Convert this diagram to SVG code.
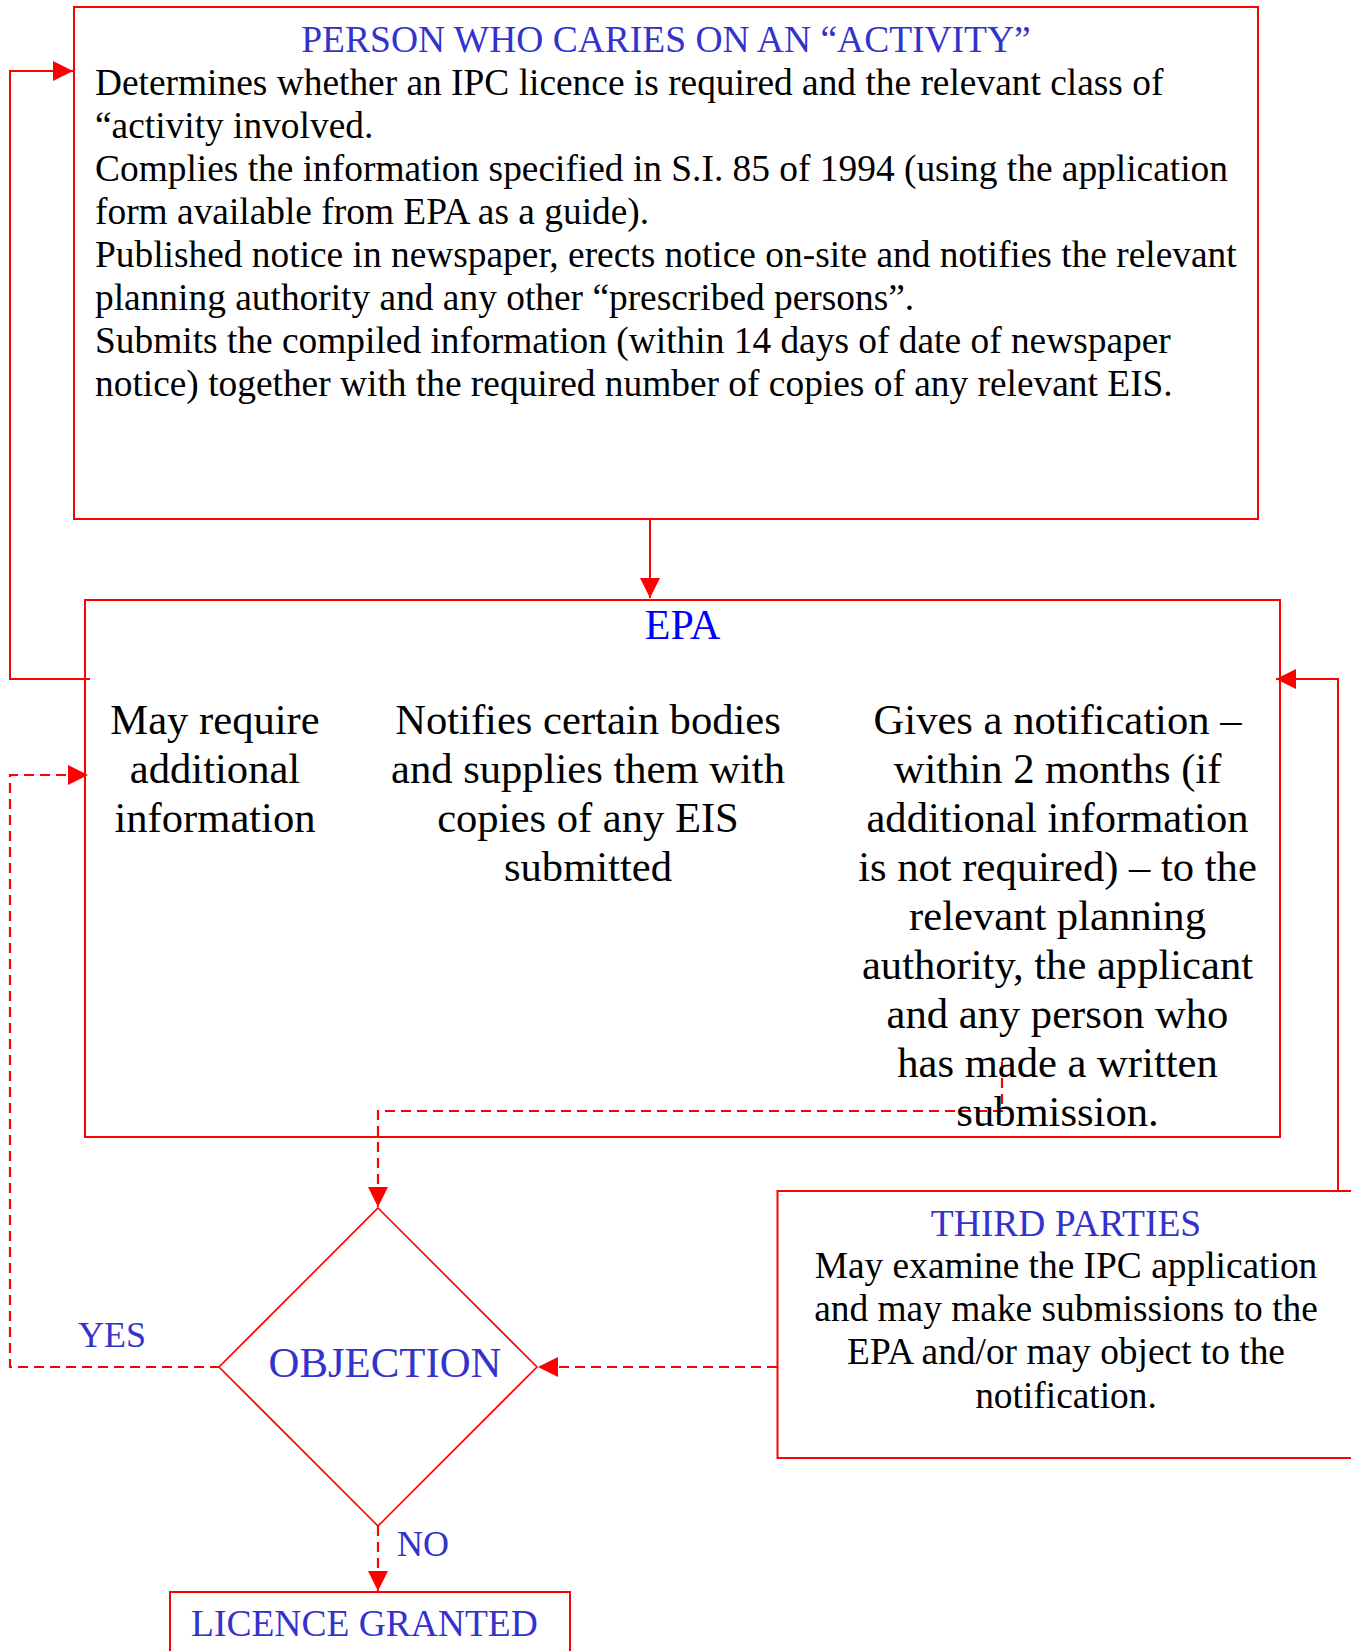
<svg xmlns="http://www.w3.org/2000/svg" width="1351" height="1651" viewBox="0 0 1351 1651">
<style>
.box{fill:none;stroke:#ff0000;stroke-width:2}
.dia{fill:none;stroke:#ff0000;stroke-width:1.6}
.con{fill:none;stroke:#ff0000;stroke-width:2}
.dash{stroke-dasharray:10 6;stroke-width:2.2}
text{font-family:"Liberation Serif","Times New Roman",serif}
.body{font-size:37.4px;fill:#000}
.col{font-size:42.6px;fill:#000;text-anchor:middle}
.ttl{font-size:37.5px;fill:#3333cc}
.big{font-size:42.8px;fill:#3333cc}
.epa{font-size:42px;fill:#0000ff;text-anchor:middle}
.lbl{font-size:36px;fill:#3333cc}
</style>
<defs>
<marker id="ah" viewBox="0 0 20 20" refX="20" refY="10" markerWidth="20" markerHeight="20" markerUnits="userSpaceOnUse" orient="auto">
<path d="M0,0 L20,10 L0,20 z" fill="#ff0000"/>
</marker>
</defs>
<rect width="1351" height="1651" fill="#ffffff"/>

<g id="connectors">
<path class="con" d="M650,519 V598" marker-end="url(#ah)"/>
<path class="con" d="M90,679 H10 V71 H73" marker-end="url(#ah)"/>
<path class="con dash" d="M220,1367 H10 V775 H88" marker-end="url(#ah)"/>
<path class="con dash" d="M1002,1062 V1111 H378 V1207" marker-end="url(#ah)"/>
<path class="con dash" d="M777,1367 H538" marker-end="url(#ah)"/>
<path class="con" d="M1338,1191 V679 H1276" marker-end="url(#ah)"/>
<path class="con dash" d="M378,1526 V1591" marker-end="url(#ah)"/>
</g>

<g id="person">
<rect class="box" x="74" y="7" width="1184" height="512"/>
<text class="ttl" x="666" y="52" text-anchor="middle">PERSON WHO CARIES ON AN “ACTIVITY”</text>
<text class="body" x="95" y="94.5">Determines whether an IPC licence is required and the relevant class of</text>
<text class="body" x="95" y="137.5">“activity involved.</text>
<text class="body" x="95" y="180.5">Complies the information specified in S.I. 85 of 1994 (using the application</text>
<text class="body" x="95" y="223.5">form available from EPA as a guide).</text>
<text class="body" x="95" y="266.5">Published notice in newspaper, erects notice on-site and notifies the relevant</text>
<text class="body" x="95" y="309.5">planning authority and any other “prescribed persons”.</text>
<text class="body" x="95" y="352.5">Submits the compiled information (within 14 days of date of newspaper</text>
<text class="body" x="95" y="395.5">notice) together with the required number of copies of any relevant EIS.</text>
</g>

<g id="epa">
<rect class="box" x="85" y="600" width="1195" height="537"/>
<text class="epa" x="682.5" y="639">EPA</text>
<text class="col" x="215" y="733.6">May require</text>
<text class="col" x="215" y="782.6">additional</text>
<text class="col" x="215" y="831.6">information</text>
<text class="col" x="588" y="733.6">Notifies certain bodies</text>
<text class="col" x="588" y="782.6">and supplies them with</text>
<text class="col" x="588" y="831.6">copies of any EIS</text>
<text class="col" x="588" y="880.6">submitted</text>
<text class="col" x="1057.5" y="733.6">Gives a notification –</text>
<text class="col" x="1057.5" y="782.6">within 2 months (if</text>
<text class="col" x="1057.5" y="831.6">additional information</text>
<text class="col" x="1057.5" y="880.6">is not required) – to the</text>
<text class="col" x="1057.5" y="929.6">relevant planning</text>
<text class="col" x="1057.5" y="978.6">authority, the applicant</text>
<text class="col" x="1057.5" y="1027.6">and any person who</text>
<text class="col" x="1057.5" y="1076.6">has made a written</text>
<text class="col" x="1057.5" y="1125.6">submission.</text>
</g>

<g id="objection">
<polygon class="dia" points="378,1208 537,1367 378,1526 219,1367"/>
<text class="big" x="385" y="1377" text-anchor="middle">OBJECTION</text>
</g>

<g id="third-parties">
<rect class="box" x="777.5" y="1191" width="600" height="267"/>
<text class="ttl" x="1066" y="1236" text-anchor="middle">THIRD PARTIES</text>
<text class="body" x="1066" y="1277.7" text-anchor="middle">May examine the IPC application</text>
<text class="body" x="1066" y="1321" text-anchor="middle">and may make submissions to the</text>
<text class="body" x="1066" y="1364.3" text-anchor="middle">EPA and/or may object to the</text>
<text class="body" x="1066" y="1407.6" text-anchor="middle">notification.</text>
</g>

<g id="licence">
<rect class="box" x="170" y="1592" width="400" height="100"/>
<text class="ttl" x="191" y="1636">LICENCE GRANTED</text>
</g>

<g id="labels">
<text class="lbl" x="78" y="1347">YES</text>
<text class="lbl" x="397" y="1556">NO</text>
</g>
</svg>
